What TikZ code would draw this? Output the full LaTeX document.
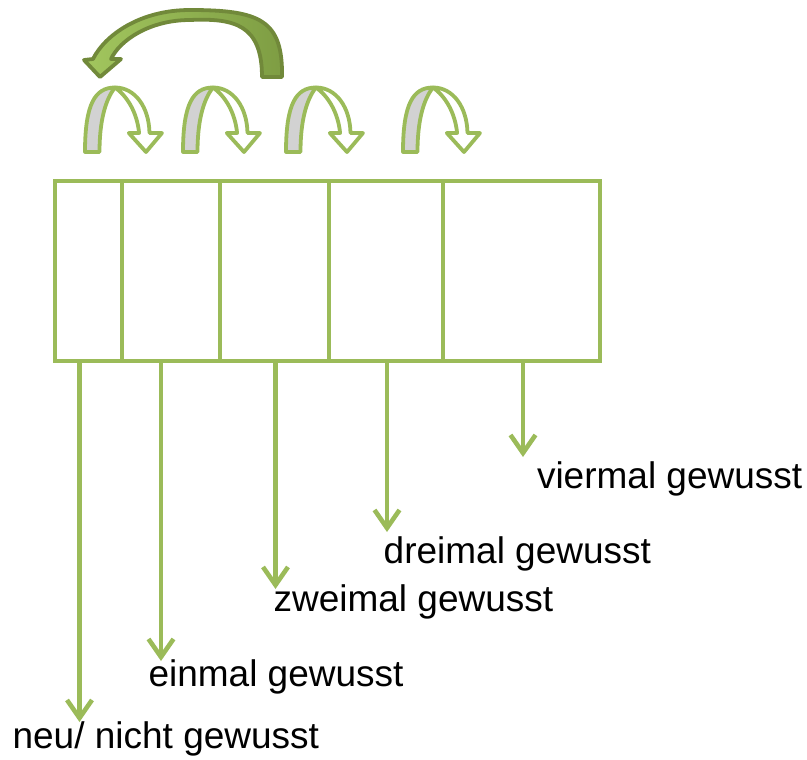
\documentclass[tikz,border=0pt]{standalone}
\usepackage{fontspec}
\setmainfont{Liberation Sans}
\usetikzlibrary{arrows.meta}

\definecolor{leaf}{HTML}{9BBB59}
\definecolor{backside}{HTML}{D2D2D2}
\definecolor{oliveline}{HTML}{71893A}
\definecolor{olivelight}{HTML}{A2C65E}
\definecolor{olivedark}{HTML}{7E9D43}

\tikzset{
  cell/.style={draw=leaf, line width=4.8pt, rectangle, inner sep=0pt, outer sep=0pt,
               minimum height=180pt},
  drop/.style={draw=leaf, line width=4.6pt,
               -{Straight Barb[length=18pt,width=25pt,line width=4.6pt]}},
  caption/.style={anchor=base west, inner sep=0pt, outer sep=0pt,
                  font=\fontsize{37}{44}\selectfont, text=black},
  % small turning ribbon arrow, local origin = bottom left of its left leg
  uturn/.pic={
    \begin{scope}[yscale=-1, line width=3.8pt, line join=round, draw=leaf]
      \path[draw=leaf, fill=backside]
        (0,0) .. controls (0,48) and (10,64.5) .. (30,64.5)
        .. controls (20,52) and (14.5,30) .. (14.5,0) -- cycle;
      \path[draw=leaf, fill=white]
        (30,64.5) .. controls (50,64.5) and (64,45) .. (64.5,19)
        -- (77,19) -- (61,0) -- (43.8,19) -- (54.1,19)
        .. controls (52,40) and (42,56) .. (30,64.5) -- cycle;
    \end{scope}
  }
}

\begin{document}
\begin{tikzpicture}[x=1pt, y=-1pt]
  \useasboundingbox (0,0) rectangle (807,760);

  % the five compartments of the card box
  \node[cell, minimum width=67pt]  (c1) at (88.5,271) {};
  \node[cell, minimum width=98pt]  (c2) at (171,271) {};
  \node[cell, minimum width=109pt] (c3) at (274.5,271) {};
  \node[cell, minimum width=114pt] (c4) at (386,271) {};
  \node[cell, minimum width=157pt] (c5) at (521.5,271) {};

  % cards move one compartment further when known
  \pic (u1) at (85,152) {uturn};
  \pic (u2) at (183,152) {uturn};
  \pic (u3) at (286,152) {uturn};
  \pic (u4) at (403,152) {uturn};

  % unknown cards go back to the first compartment
  \path[draw=oliveline, line width=3.8pt, line join=round,
        left color=olivelight, right color=olivedark]
    (282,77) .. controls (283,20) and (260,10) .. (190,10)
    .. controls (140,10) and (105,35) .. (93,59)
    -- (84,60) -- (100,77) -- (121,59) -- (111,59)
    .. controls (120,40) and (150,20) .. (190,20)
    .. controls (235,18) and (262,25) .. (262,77) -- cycle;

  % captions
  \node[caption] (l1) at (12.6,748) {neu/ nicht gewusst};
  \node[caption] (l2) at (148.5,686.5) {einmal gewusst};
  \node[caption] (l3) at (273.6,611.5) {zweimal gewusst};
  \node[caption] (l4) at (383.7,563.3) {dreimal gewusst};
  \node[caption] (l5) at (537,488.3) {viermal gewusst};

  % start points on the box floor and arrow tips above the captions
  \coordinate (s1) at (79.5,361);  \coordinate (t1) at (79.5,722);
  \coordinate (s2) at (161,361);   \coordinate (t2) at (161,661);
  \coordinate (s3) at (275.5,361); \coordinate (t3) at (275.5,589);
  \coordinate (s4) at (387,361);   \coordinate (t4) at (387,532);
  \coordinate (s5) at (523,361);   \coordinate (t5) at (523,457);

  \draw[drop] (s1) -- (t1);
  \draw[drop] (s2) -- (t2);
  \draw[drop] (s3) -- (t3);
  \draw[drop] (s4) -- (t4);
  \draw[drop] (s5) -- (t5);
\end{tikzpicture}
\end{document}
